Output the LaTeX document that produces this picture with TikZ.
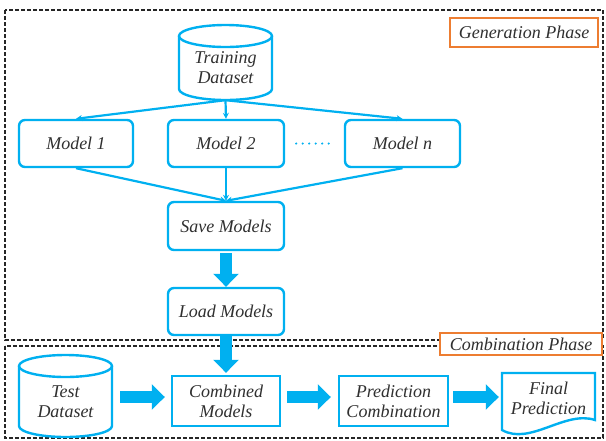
\documentclass[tikz,border=0pt]{standalone}
\usepackage{fontspec}
\setmainfont{Liberation Serif}
\usepackage{tikz}
\usetikzlibrary{arrows.meta}
\definecolor{flowblue}{HTML}{00B0F0}
\definecolor{phaseorange}{HTML}{ED7D31}
\definecolor{textgray}{HTML}{303030}

\begin{document}
\begin{tikzpicture}[x=1pt, y=-1pt,
    every node/.style={font=\fontsize{18}{20}\selectfont\itshape, text=textgray, align=center, inner sep=0pt},
    model/.style={draw=flowblue, line width=2.4pt, rounded corners=6pt, fill=white, minimum width=115pt, minimum height=47pt},
    stage/.style={draw=flowblue, line width=2.4pt, fill=white, minimum width=108pt, minimum height=50pt},
    drum/.style={draw=flowblue, line width=2.4pt},
    thin/.style={draw=flowblue, line width=2.2pt, -{Stealth[length=6pt,width=6pt]}},
    fat/.style={draw=flowblue, line width=12.5pt, -{Triangle[length=13pt,width=25pt]}},
    phase/.style={draw=black!85, line width=1.6pt, dash pattern=on 4pt off 2pt},
    tag/.style={draw=phaseorange, line width=2pt, fill=white}]
    \useasboundingbox (0,0) rectangle (606,440);
    % Phases
    \draw [phase] (5,10) rectangle (603,340);
    \draw [phase] (5,346) rectangle (603,438);
    \node [tag, minimum width=148pt, minimum height=29pt] (genphase) at (524,32.5) {Generation Phase};
    \node [tag, minimum width=162pt, minimum height=22pt] (combphase) at (521,344) {Combination Phase};
    % Cylinders
    \draw [drum] (179,36) -- (179,89) arc [start angle=180, end angle=360, x radius=46.5pt, y radius=11pt] -- (272,36);
    \draw [drum] (225.5,36) ellipse [x radius=46.5pt, y radius=11pt];
    \draw [drum] (19,366) -- (19,426) arc [start angle=180, end angle=360, x radius=46.5pt, y radius=11pt] -- (112,366);
    \draw [drum] (65.5,366) ellipse [x radius=46.5pt, y radius=11pt];
    \node [minimum width=93pt, minimum height=64pt] (train) at (225.5,68) {Training\\Dataset};
    \node [minimum width=93pt, minimum height=70pt] (test) at (65.5,402) {Test\\Dataset};
    % Models
    \node [model, minimum width=114pt] (m1) at (76,143.5) {Model 1};
    \node [model, minimum width=116pt] (m2) at (226,143.5) {Model 2};
    \node [model] (mn) at (402.5,143.5) {Model n};
    \node [model, minimum width=116pt, minimum height=48pt] (save) at (226,226) {Save Models};
    \node [model, minimum width=116pt] (load) at (226,311.5) {Load Models};
    % Combination stages
    \node [stage] (combined) at (226,401) {Combined\\Models};
    \node [stage, minimum width=109pt] (pred) at (393.5,401) {Prediction\\Combination};
    \draw [drum, fill=white] (502,373) -- (595,373) -- (595,420)
        .. controls (565,410) and (530,446) .. (502,430) -- cycle;
    \node [minimum width=93pt, minimum height=50pt] (final) at (548.5,398) {Final\\Prediction};
    % Thin arrows
    \foreach \m in {m1,m2,mn}
    {
    \draw [thin] (train.south) -- (\m.north);
    \draw [thin] (\m.south) -- (save.north);
    }
    \draw [flowblue, line width=2.4pt, line cap=round, dash pattern=on 0pt off 6.5pt]
        ([xshift=11pt]m2.east) -- ([xshift=-11pt]mn.west);
    % Thick arrows
    \coordinate (row) at (0,397);
    \draw [fat, shorten <=2pt] (save.south) -- (load.north);
    \draw [fat, shorten >=2pt] (load.south) -- (combined.north);
    \draw [fat, shorten <=8pt, shorten >=6pt] (test.east |- row) -- (combined.west |- row);
    \draw [fat, shorten <=6pt, shorten >=7pt] (combined.east |- row) -- (pred.west |- row);
    \draw [fat, shorten <=4pt, shorten >=3pt] (pred.east |- row) -- (final.west |- row);
\end{tikzpicture}
\end{document}
